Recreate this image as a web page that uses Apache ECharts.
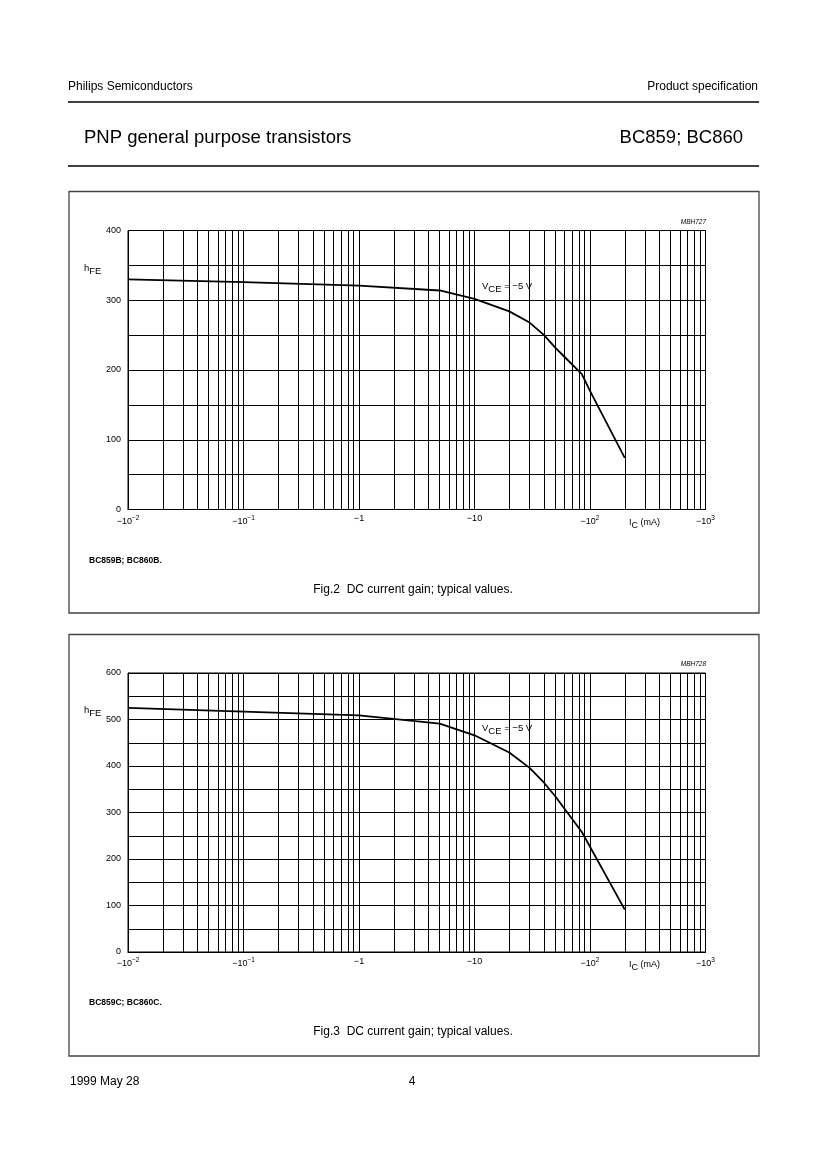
<!DOCTYPE html>
<html>
<head>
<meta charset="utf-8">
<script src="https://cdn.jsdelivr.net/npm/echarts@6/dist/echarts.min.js"></script>
<style>
  html, body { margin: 0; padding: 0; background: #fff; }
  #page { width: 832px; height: 1169px; }
</style>
</head>
<body>
<div id="page"></div>
<script>
// IC (mA, magnitude) and hFE
const icB = [0.01, 0.1, 1, 5, 10, 20, 30, 40, 50, 60, 85, 100, 200];
const hfeB = [330, 326, 321, 314, 302, 284, 268, 250, 232, 219, 194, 170, 74];

const icC = [0.01, 0.1, 1, 5, 10, 20, 30, 40, 50, 85, 200];
const hfeC = [525, 517, 509, 491, 466, 429, 396, 364, 335, 258, 91];

// decade tick labels, -10^-2 ... -10^3
const xTickLabels = {
  '-2': '−10{sup|−2}',
  '-1': '−10{sup|−1}',
  '0': '−1',
  '1': '−10',
  '2': '−10{sup|2}',
  '3': '−10{sup|3}'
};
const yMaxB = 400;
const yMaxC = 600;

const FONT = 'Liberation Sans, Arial, Helvetica, sans-serif';

// minor vertical grid: 2..9 in each decade
const minorX = [];
[0.01, 0.1, 1, 10, 100].forEach(d => {
  for (let k = 2; k <= 9; k++) minorX.push({ xAxis: +(k * d).toPrecision(3) });
});

const myChart = echarts.init(document.getElementById('page'), null, { renderer: 'canvas' });

function xAxisCfg(gridIndex) {
  return {
    type: 'log',
    gridIndex: gridIndex,
    logBase: 10,
    min: 0.01,
    max: 1000,
    axisLine: { show: true, lineStyle: { color: '#000', width: 1 } },
    axisTick: { show: false },
    splitLine: { show: true, lineStyle: { color: '#000', width: 1 } },
    axisLabel: {
      color: '#000',
      fontFamily: FONT,
      fontSize: 9,
      margin: 5,
      formatter: v => xTickLabels[String(Math.round(Math.log10(v)))] || '',
      rich: {
        sup: { fontSize: 6.5, fontFamily: FONT, color: '#000', padding: [0, 0, 7, 0] }
      }
    }
  };
}

function yAxisCfg(gridIndex, max) {
  return {
    type: 'value',
    gridIndex: gridIndex,
    min: 0,
    max: max,
    interval: 50,
    axisLine: { show: true, lineStyle: { color: '#000', width: 1 } },
    axisTick: { show: false },
    splitLine: { show: true, lineStyle: { color: '#000', width: 1 } },
    axisLabel: {
      color: '#000',
      fontFamily: FONT,
      fontSize: 9,
      margin: 7,
      formatter: v => (v % 100 === 0 ? String(v) : '')
    }
  };
}

function curve(xi, x, y) {
  return {
    type: 'line',
    xAxisIndex: xi,
    yAxisIndex: xi,
    data: x.map((v, i) => [v, y[i]]),
    showSymbol: false,
    symbol: 'none',
    silent: true,
    lineStyle: { color: '#000', width: 1.8 },
    markLine: {
      silent: true,
      symbol: 'none',
      label: { show: false },
      lineStyle: { color: '#000', width: 1, type: 'solid' },
      data: minorX
    },
    z: 5
  };
}

function txt(text, x, y, size, extra) {
  return Object.assign({
    type: 'text',
    style: Object.assign({
      text: text, x: x, y: y,
      fontFamily: FONT, fontSize: size, fill: '#000',
      textVerticalAlign: 'middle'
    }, extra || {})
  });
}

function chartLabels(top, code, sub) {
  // labels positioned relative to a chart block
  return [
    {
      type: 'text',
      style: {
        text: '{a|h}{s|FE}', x: 84, y: top + 37,
        textVerticalAlign: 'middle',
        rich: {
          a: { fontFamily: FONT, fontSize: 9.5, fill: '#000' },
          s: { fontFamily: FONT, fontSize: 9.5, fill: '#000', padding: [6, 0, 0, 0] }
        }
      }
    },
    {
      type: 'text',
      style: {
        text: '{a|V}{s|CE}{a| = −5 V}', x: 482, y: top + 55,
        textVerticalAlign: 'middle',
        rich: {
          a: { fontFamily: FONT, fontSize: 9.5, fill: '#000' },
          s: { fontFamily: FONT, fontSize: 9.5, fill: '#000', padding: [6, 0, 0, 0] }
        }
      }
    },
    {
      type: 'text',
      style: {
        text: '{a|I}{s|C}{a| (mA)}', x: 629, y: top + 292,
        textVerticalAlign: 'middle',
        rich: {
          a: { fontFamily: FONT, fontSize: 9, fill: '#000' },
          s: { fontFamily: FONT, fontSize: 9, fill: '#000', padding: [6, 0, 0, 0] }
        }
      }
    },
    txt(code, 706, top - 8.5, 6.5, { textAlign: 'right', fontStyle: 'italic' }),
    txt(sub, 89, top + 330, 8.5, { fontWeight: 'bold' })
  ];
}

const option = {
  backgroundColor: '#fff',
  animation: false,
  grid: [
    { left: 128, width: 577.5, top: 230.5, height: 279, show: true, borderColor: '#000', borderWidth: 1 },
    { left: 128, width: 577.5, top: 673, height: 279, show: true, borderColor: '#000', borderWidth: 1 }
  ],
  xAxis: [xAxisCfg(0), xAxisCfg(1)],
  yAxis: [yAxisCfg(0, yMaxB), yAxisCfg(1, yMaxC)],
  series: [curve(0, icB, hfeB), curve(1, icC, hfeC)],
  graphic: [
    txt('Philips Semiconductors', 68, 87, 12),
    txt('Product specification', 758, 87, 12, { textAlign: 'right' }),
    { type: 'line', shape: { x1: 68, y1: 102, x2: 759, y2: 102 }, style: { stroke: '#000', lineWidth: 1.3 } },
    txt('PNP general purpose transistors', 84, 137.5, 18.5),
    txt('BC859; BC860', 743, 137.5, 18.5, { textAlign: 'right' }),
    { type: 'line', shape: { x1: 68, y1: 166, x2: 759, y2: 166 }, style: { stroke: '#000', lineWidth: 1.3 } },
    { type: 'rect', shape: { x: 69, y: 191.5, width: 690, height: 421.5 }, style: { fill: 'none', stroke: '#444', lineWidth: 1.3 } },
    { type: 'rect', shape: { x: 69, y: 634.5, width: 690, height: 421.5 }, style: { fill: 'none', stroke: '#444', lineWidth: 1.3 } },
    ...chartLabels(231, 'MBH727', 'BC859B; BC860B.'),
    ...chartLabels(673, 'MBH728', 'BC859C; BC860C.'),
    txt('Fig.2  DC current gain; typical values.', 413, 590, 12, { textAlign: 'center' }),
    txt('Fig.3  DC current gain; typical values.', 413, 1032, 12, { textAlign: 'center' }),
    txt('1999 May 28', 70, 1081.5, 12),
    txt('4', 412, 1081.5, 12, { textAlign: 'center' })
  ]
};

myChart.setOption(option);
</script>
</body>
</html>
